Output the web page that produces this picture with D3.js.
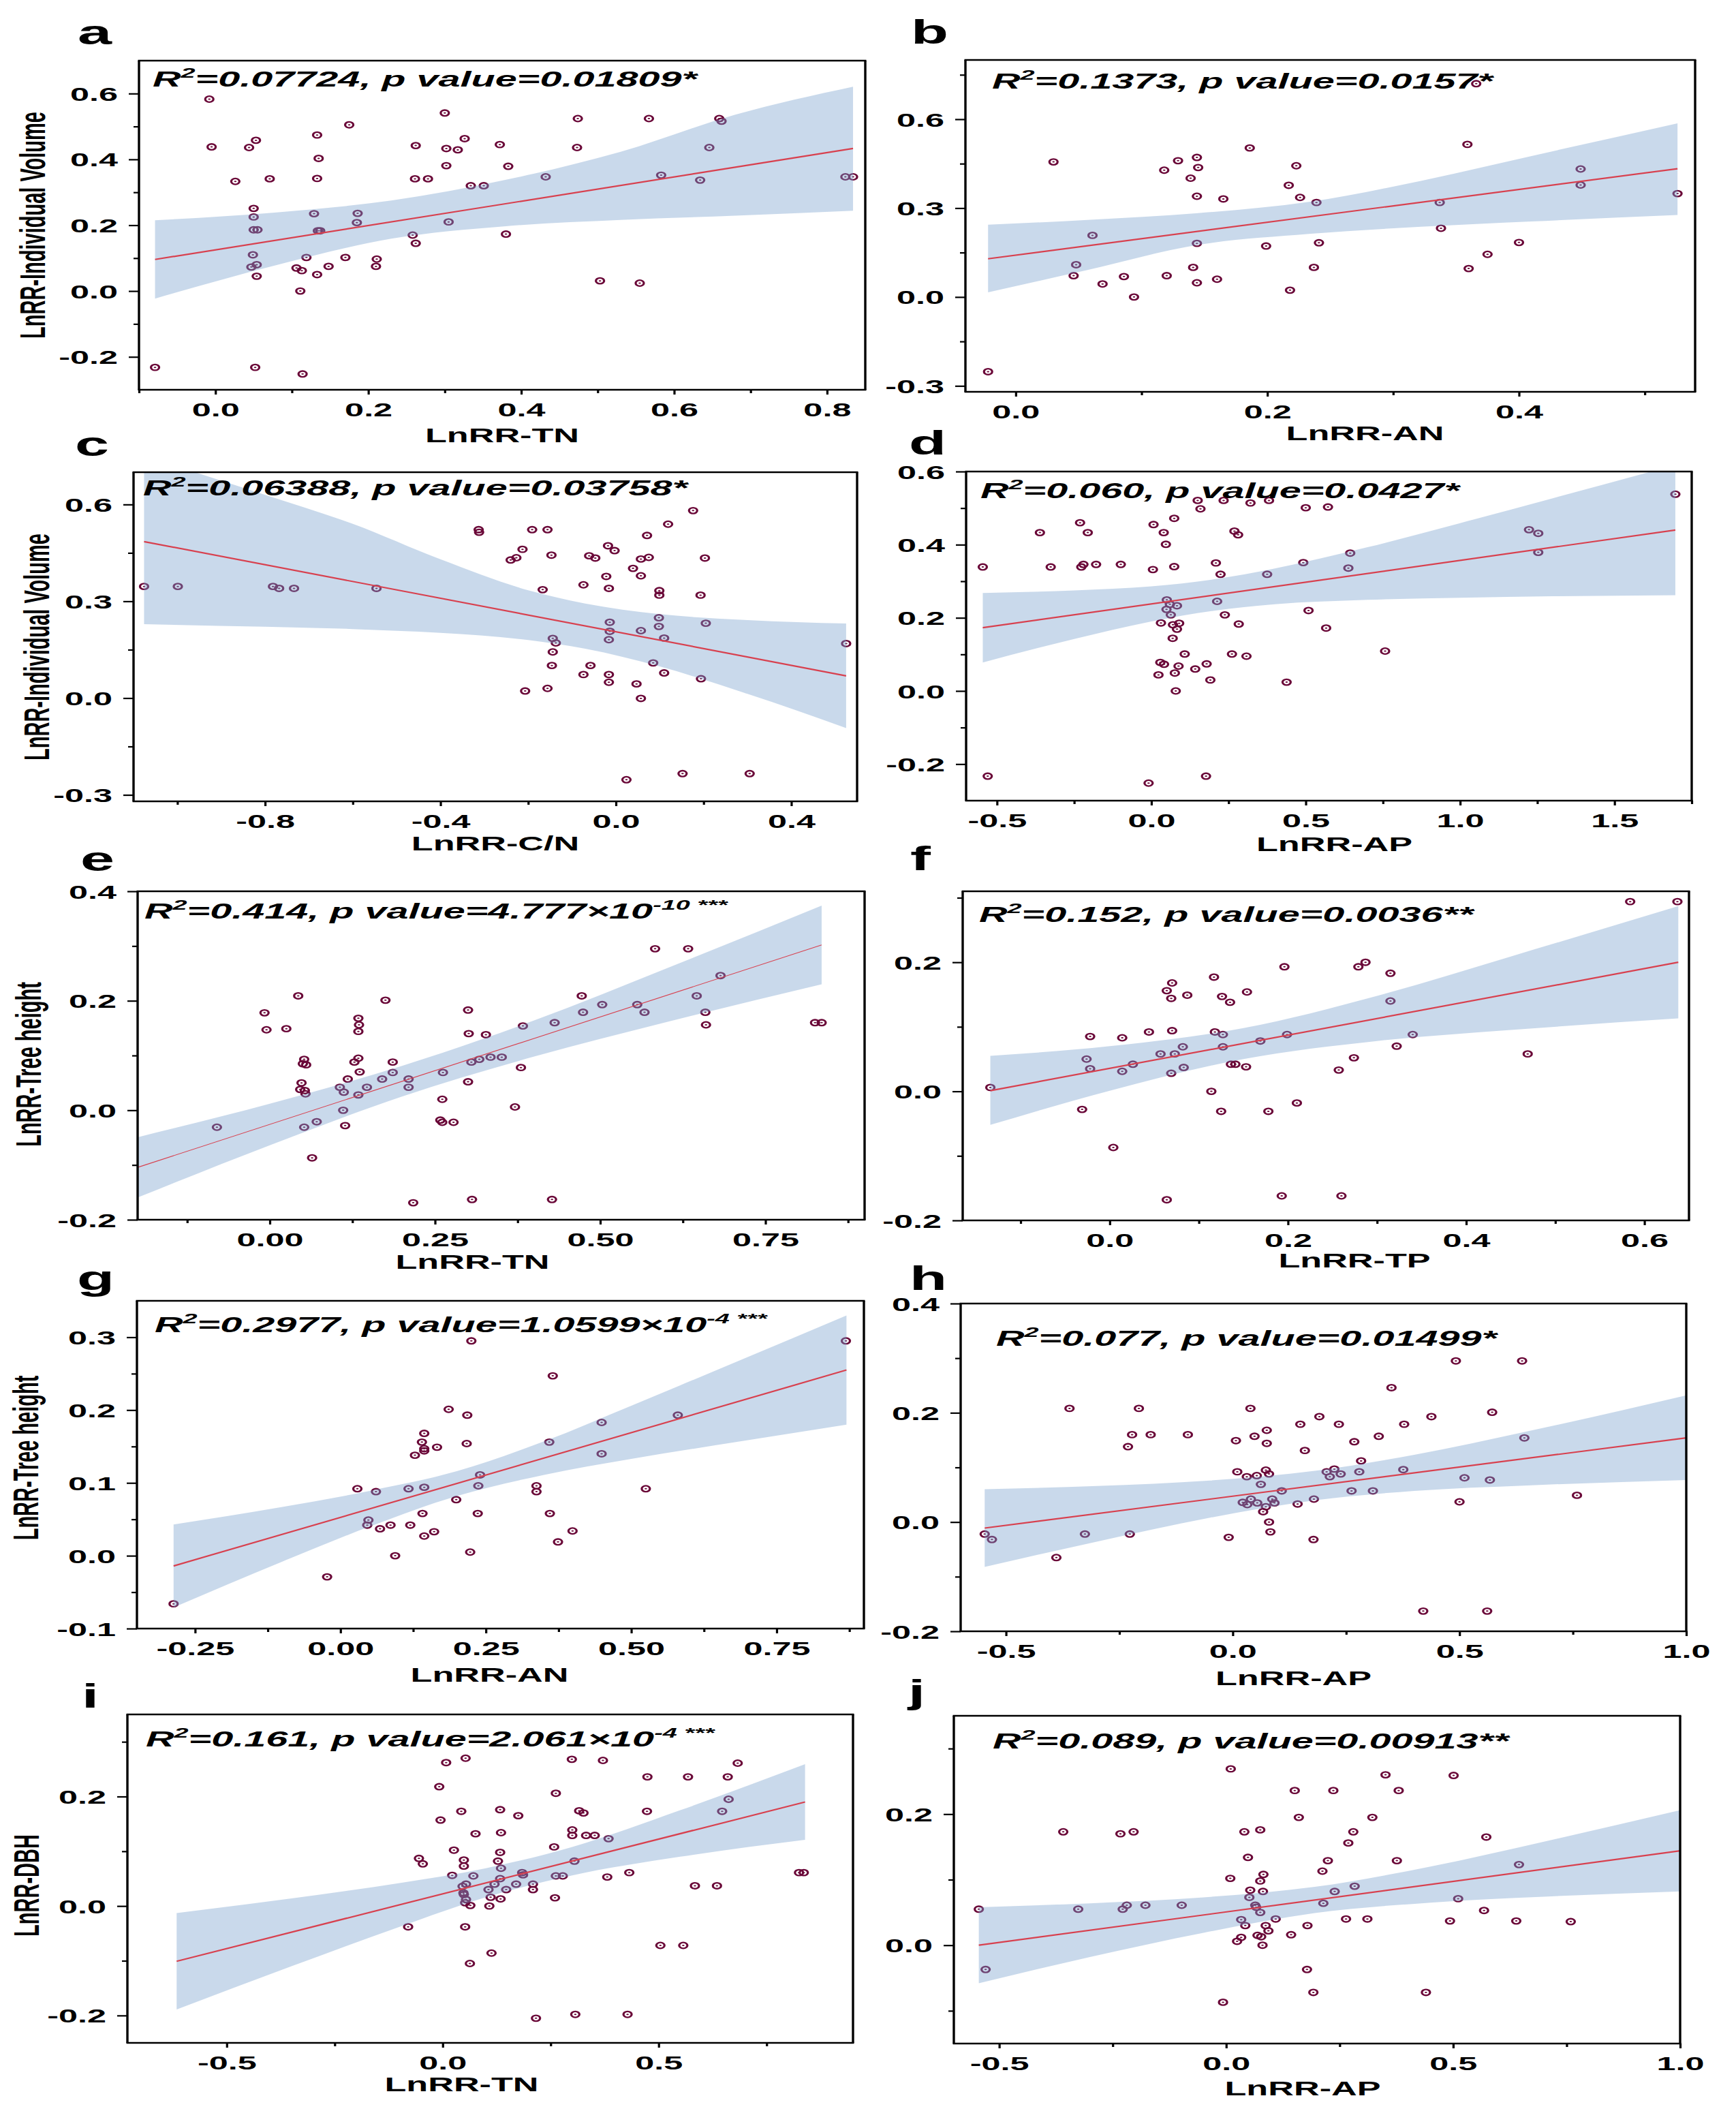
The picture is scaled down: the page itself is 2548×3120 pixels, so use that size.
<!DOCTYPE html>
<html>
<head>
<meta charset="utf-8">
<script src="https://cdn.jsdelivr.net/npm/d3@7"></script>
<style>
  body { margin: 0; background: #fff; }
  svg { display: block; background: #fff; }
  text { font-family: "Liberation Sans", Arial, sans-serif; font-weight: bold; fill: #000; }
</style>
</head>
<body>
<svg id="chart" width="2548" height="3120"></svg>
<script>
// ---------------------------------------------------------------------------
// Data
// ---------------------------------------------------------------------------

// a: LnRR-TN vs LnRR-Individual Volume
const aX = [-0.008,-0.005,0.044,0.053,0.026,0.071,0.133,0.135,0.133,0.175,0.300,0.262,0.302,0.317,0.326,0.372,0.302,0.383,0.261,0.278,0.334,0.351,0.432,0.474,0.473,0.567,0.659,0.662,0.646,0.583,0.634,0.824,0.834,0.050,0.050,0.050,0.055,0.129,0.186,0.185,0.134,0.137,0.305,0.258,0.262,0.380,0.049,0.054,0.047,0.054,0.119,0.106,0.113,0.133,0.148,0.170,0.211,0.210,0.111,0.503,0.555,-0.079,0.052,0.114];
const aY = [0.583,0.438,0.436,0.458,0.333,0.341,0.474,0.403,0.342,0.505,0.541,0.442,0.433,0.429,0.463,0.445,0.381,0.379,0.341,0.341,0.320,0.320,0.347,0.524,0.436,0.524,0.524,0.516,0.436,0.352,0.337,0.347,0.347,0.251,0.225,0.186,0.186,0.235,0.236,0.208,0.183,0.183,0.210,0.170,0.145,0.173,0.110,0.080,0.073,0.045,0.102,0.070,0.062,0.050,0.075,0.102,0.097,0.075,0.000,0.031,0.024,-0.232,-0.232,-0.252];
const aFitX = [-0.079, 0.834], aFitY = [0.096, 0.433];
const aBandX = [-0.079,0.08,0.23,0.38,0.53,0.68,0.834];
const aBandHi = [0.215,0.239,0.275,0.338,0.423,0.536,0.621];
const aBandLo = [-0.023,0.079,0.159,0.197,0.216,0.229,0.244];
const aXTicks = [0, 0.2, 0.4, 0.6, 0.8], aYTicks = [-0.2, 0, 0.2, 0.4, 0.6];

// b: LnRR-AN vs LnRR-Individual Volume
const bX = [-0.022,0.030,0.061,0.048,0.046,0.069,0.086,0.094,0.118,0.129,0.144,0.145,0.139,0.144,0.165,0.186,0.120,0.141,0.144,0.160,0.144,0.199,0.223,0.217,0.226,0.239,0.241,0.237,0.218,0.337,0.338,0.359,0.366,0.360,0.375,0.400,0.449,0.449,0.526];
const bY = [-0.252,0.456,0.208,0.109,0.072,0.044,0.069,0.000,0.428,0.460,0.471,0.437,0.401,0.340,0.331,0.503,0.072,0.100,0.048,0.060,0.181,0.172,0.443,0.377,0.336,0.319,0.183,0.100,0.023,0.319,0.232,0.515,0.720,0.096,0.144,0.184,0.432,0.378,0.349];
const bFitX = [-0.022, 0.526], bFitY = [0.129, 0.433];
const bBandX = [-0.022,0.057,0.145,0.233,0.322,0.410,0.526];
const bBandHi = [0.244,0.260,0.283,0.321,0.392,0.476,0.586];
const bBandLo = [0.016,0.091,0.176,0.213,0.237,0.255,0.277];
const bXTicks = [0, 0.2, 0.4], bYTicks = [-0.3, 0, 0.3, 0.6];

// c: LnRR-C/N vs LnRR-Individual Volume
const cX = [-1.076,-0.999,-0.782,-0.768,-0.734,-0.546,-0.313,-0.312,-0.191,-0.156,-0.213,-0.240,-0.227,-0.147,-0.167,-0.061,-0.047,-0.018,-0.003,-0.022,-0.074,-0.016,0.039,0.057,0.057,0.071,0.075,0.119,0.176,0.203,0.099,0.099,0.193,-0.014,-0.014,-0.016,0.057,0.098,0.098,0.110,0.205,0.525,-0.144,-0.137,-0.144,-0.146,-0.058,-0.074,-0.016,-0.016,0.047,0.085,0.110,0.194,-0.207,-0.156,0.057,0.024,0.152,0.305];
const cY = [0.346,0.346,0.346,0.340,0.340,0.340,0.522,0.514,0.522,0.522,0.461,0.428,0.435,0.443,0.336,0.441,0.434,0.472,0.457,0.377,0.351,0.340,0.402,0.431,0.379,0.504,0.436,0.539,0.581,0.434,0.333,0.319,0.319,0.235,0.207,0.181,0.209,0.249,0.222,0.186,0.232,0.169,0.185,0.171,0.143,0.101,0.101,0.073,0.073,0.049,0.044,0.109,0.078,0.060,0.022,0.030,-0.001,-0.253,-0.234,-0.234];
const cFitX = [-1.076, 0.525], cFitY = [0.485, 0.069];
const cBandX = [-1.076,-0.8,-0.6,-0.4,-0.2,-0.07,0.1,0.3,0.525];
const cBandHi = [0.75,0.63,0.54,0.43,0.334,0.293,0.260,0.242,0.231];
const cBandLo = [0.229,0.221,0.214,0.202,0.180,0.153,0.098,0.013,-0.093];
const cXTicks = [-0.8, -0.4, 0, 0.4], cYTicks = [-0.3, 0, 0.3, 0.6];

// d: LnRR-AP vs LnRR-Individual Volume
const dX = [-0.546,-0.361,-0.326,-0.231,-0.206,-0.227,-0.220,-0.179,-0.099,0.007,0.040,0.047,0.074,0.005,0.074,0.150,0.159,0.234,0.321,0.381,0.500,0.572,0.269,0.281,0.209,0.224,0.375,0.492,0.644,0.638,1.223,1.253,1.253,1.697,0.050,0.060,0.083,0.049,0.063,0.213,0.238,0.031,0.070,0.090,0.083,0.069,0.283,0.509,0.566,0.757,0.108,0.261,0.308,0.029,0.041,0.088,0.179,0.142,0.023,0.076,0.191,0.438,0.079,-0.530,-0.009,0.177];
const dY = [0.339,0.433,0.339,0.460,0.433,0.339,0.346,0.346,0.346,0.455,0.433,0.401,0.472,0.332,0.340,0.521,0.498,0.521,0.514,0.521,0.501,0.503,0.437,0.427,0.350,0.319,0.319,0.351,0.377,0.336,0.441,0.431,0.379,0.538,0.249,0.237,0.233,0.223,0.208,0.245,0.208,0.186,0.181,0.185,0.169,0.144,0.183,0.220,0.172,0.109,0.101,0.101,0.095,0.078,0.073,0.068,0.074,0.060,0.044,0.049,0.030,0.024,0.000,-0.233,-0.252,-0.233];
const dFitX = [-0.546, 1.697], dFitY = [0.173, 0.440];
const dBandX = [-0.546,-0.25,0,0.2,0.4,0.7,1.0,1.3,1.697];
const dBandHi = [0.268,0.275,0.286,0.305,0.335,0.393,0.459,0.527,0.618];
const dBandLo = [0.078,0.142,0.190,0.219,0.237,0.249,0.255,0.259,0.262];
const dXTicks = [-0.5, 0, 0.5, 1.0, 1.5], dYTicks = [-0.2, 0, 0.2, 0.4, 0.6];

// e: LnRR-TN vs LnRR-Tree height
const eX = [-0.080,-0.008,-0.005,0.025,0.043,0.052,0.050,0.055,0.048,0.046,0.053,0.054,0.052,0.071,0.064,0.118,0.106,0.112,0.111,0.114,0.128,0.134,0.134,0.135,0.134,0.136,0.134,0.147,0.170,0.175,0.186,0.186,0.210,0.210,0.217,0.262,0.261,0.258,0.261,0.278,0.300,0.301,0.327,0.300,0.305,0.317,0.334,0.351,0.306,0.380,0.371,0.383,0.431,0.427,0.472,0.474,0.503,0.556,0.567,0.583,0.633,0.646,0.659,0.660,0.682,0.825,0.835];
const eY = [-0.031,0.178,0.147,0.149,0.209,0.093,0.085,0.083,0.050,0.038,0.036,0.030,-0.031,-0.021,-0.087,0.057,0.042,0.033,0.000,-0.028,0.088,0.095,0.168,0.156,0.144,0.070,0.028,0.042,0.057,0.201,0.088,0.069,0.057,0.042,-0.169,0.069,0.020,-0.018,-0.022,-0.022,0.183,0.140,0.138,0.052,0.088,0.093,0.097,0.097,-0.163,0.078,0.006,0.154,0.160,-0.163,0.209,0.179,0.193,0.193,0.179,0.295,0.295,0.209,0.179,0.156,0.246,0.160,0.160];
const eFitX = [-0.199, 0.835], eFitY = [-0.104, 0.302];
const eBandX = [-0.199,0,0.2,0.4,0.6,0.835];
const eBandHi = [-0.049,0.012,0.081,0.164,0.259,0.374];
const eBandLo = [-0.159,-0.064,0.025,0.098,0.161,0.230];
const eXTicks = [0, 0.25, 0.5, 0.75], eYTicks = [-0.2, 0, 0.2, 0.4];

// f: LnRR-TP vs LnRR-Tree height
const fX = [-0.134,-0.031,-0.022,-0.026,-0.022,0.004,0.014,0.014,0.026,0.044,0.057,0.064,0.070,0.069,0.087,0.070,0.073,0.082,0.069,0.083,0.064,0.117,0.126,0.135,0.154,0.118,0.127,0.127,0.136,0.141,0.153,0.169,0.114,0.125,0.178,0.210,0.196,0.199,0.193,0.260,0.257,0.274,0.279,0.287,0.315,0.315,0.322,0.340,0.469,0.584,0.637];
const fY = [0.006,-0.028,0.085,0.050,0.035,-0.087,0.083,0.031,0.042,0.092,0.058,0.156,0.168,0.144,0.149,0.094,0.058,0.069,0.028,0.037,-0.168,0.177,0.147,0.138,0.154,0.092,0.088,0.069,0.042,0.042,0.038,0.078,0.000,-0.031,-0.031,-0.018,0.193,0.088,-0.162,-0.162,0.033,0.052,0.193,0.200,0.183,0.140,0.070,0.088,0.058,0.294,0.294];
const fFitX = [-0.134, 0.638], fFitY = [0.001, 0.200];
const fBandX = [-0.134,0,0.15,0.3,0.45,0.638];
const fBandHi = [0.055,0.070,0.098,0.148,0.209,0.287];
const fBandLo = [-0.052,0.001,0.050,0.078,0.095,0.113];
const fXTicks = [0, 0.2, 0.4, 0.6], fYTicks = [-0.2, 0, 0.2];

// g: LnRR-AN vs LnRR-Tree height
const gX = [-0.287,-0.023,0.029,0.061,0.048,0.046,0.068,0.086,0.094,0.117,0.120,0.128,0.144,0.140,0.144,0.144,0.166,0.144,0.141,0.144,0.161,0.186,0.199,0.218,0.217,0.225,0.223,0.240,0.237,0.236,0.337,0.337,0.359,0.360,0.365,0.374,0.399,0.449,0.449,0.525,0.580,0.869];
const gY = [-0.066,-0.029,0.092,0.088,0.049,0.042,0.037,0.042,0.000,0.092,0.042,0.138,0.168,0.156,0.147,0.144,0.149,0.094,0.058,0.027,0.033,0.201,0.077,0.193,0.154,0.295,0.005,0.111,0.096,0.058,0.096,0.088,0.156,0.058,0.247,0.019,0.034,0.183,0.140,0.092,0.193,0.295];
const gFitX = [-0.287, 0.870], gFitY = [-0.014, 0.255];
const gBandX = [-0.287,-0.1,0.05,0.2,0.35,0.5,0.68,0.870];
const gBandHi = [0.043,0.067,0.089,0.116,0.157,0.206,0.266,0.330];
const gBandLo = [-0.071,-0.008,0.040,0.082,0.111,0.133,0.156,0.180];
const gXTicks = [-0.25, 0, 0.25, 0.5, 0.75], gYTicks = [-0.1, 0, 0.1, 0.2, 0.3];

// h: LnRR-AP vs LnRR-Tree height
const hX = [-0.547,-0.531,-0.389,-0.360,-0.326,-0.231,-0.222,-0.207,-0.227,-0.181,-0.099,-0.009,0.007,0.010,0.039,0.048,0.075,0.075,0.073,0.031,0.053,0.080,0.062,0.108,0.040,0.022,0.032,0.054,0.087,0.092,0.073,0.067,0.080,0.083,0.143,0.179,0.178,0.149,0.159,0.191,0.234,0.207,0.214,0.224,0.238,0.262,0.268,0.279,0.283,0.309,0.322,0.350,0.376,0.378,0.438,0.492,0.500,0.511,0.572,0.567,0.638,0.643,0.759,0.420,0.561];
const hY = [-0.022,-0.032,-0.065,0.208,-0.022,0.138,0.160,0.208,-0.022,0.160,0.160,-0.028,0.149,0.092,0.208,0.157,0.168,0.144,0.095,0.083,0.085,0.088,0.069,0.057,0.042,0.036,0.032,0.035,0.042,0.035,0.028,0.019,0.000,-0.018,0.033,0.042,-0.032,0.179,0.131,0.193,0.179,0.092,0.083,0.097,0.088,0.057,0.147,0.092,0.112,0.057,0.157,0.246,0.096,0.179,0.193,0.295,0.037,0.081,0.201,0.077,0.295,0.154,0.049,-0.163,-0.163];
const hFitX = [-0.547, 1.0], hFitY = [-0.011, 0.154];
const hBandX = [-0.547,-0.3,-0.05,0.184,0.4,0.65,1.0];
const hBandHi = [0.060,0.066,0.076,0.094,0.123,0.166,0.232];
const hBandLo = [-0.082,-0.036,0.008,0.040,0.057,0.067,0.077];
const hXTicks = [-0.5, 0, 0.5, 1.0], hYTicks = [-0.2, 0, 0.2, 0.4];

// i: LnRR-TN vs LnRR-DBH
const iX = [-0.080,-0.055,-0.046,-0.008,-0.005,0.008,0.053,0.026,0.043,0.049,0.049,0.022,0.071,0.054,0.046,0.048,0.049,0.054,0.052,0.064,0.052,0.063,0.076,0.133,0.135,0.133,0.128,0.135,0.133,0.120,0.106,0.111,0.134,0.108,0.113,0.175,0.147,0.170,0.184,0.186,0.209,0.209,0.216,0.258,0.262,0.260,0.262,0.278,0.299,0.300,0.300,0.316,0.326,0.332,0.352,0.305,0.307,0.371,0.384,0.381,0.432,0.428,0.474,0.473,0.504,0.557,0.568,0.584,0.635,0.660,0.662,0.647,0.683,0.825,0.836];
const iY = [-0.038,0.087,0.077,0.218,0.157,0.262,0.270,0.102,0.173,0.084,0.073,0.056,0.055,0.040,0.036,0.024,0.021,0.012,0.006,0.001,-0.038,-0.105,0.132,0.176,0.134,0.098,0.082,0.069,0.050,0.040,0.030,0.016,0.013,0.000,-0.086,0.165,0.030,0.040,0.061,0.057,0.040,0.030,-0.205,0.108,0.206,0.015,0.055,0.055,0.268,0.139,0.129,0.174,0.170,0.129,0.129,0.082,-0.198,0.266,0.123,0.053,0.061,-0.198,0.236,0.173,-0.072,-0.072,0.236,0.037,0.037,0.236,0.195,0.173,0.261,0.061,0.061];
const iFitX = [-0.616, 0.839], iFitY = [-0.101, 0.190];
const iBandX = [-0.616,-0.35,-0.1,0.1,0.3,0.55,0.839];
const iBandHi = [-0.013,0.014,0.042,0.069,0.108,0.175,0.259];
const iBandLo = [-0.189,-0.110,-0.038,0.016,0.056,0.090,0.121];
const iXTicks = [-0.5, 0, 0.5], iYTicks = [-0.2, 0, 0.2];

// j: LnRR-AP vs LnRR-DBH
const jX = [-0.545,-0.530,-0.359,-0.326,-0.233,-0.204,-0.228,-0.219,-0.178,-0.098,-0.007,0.010,0.009,0.040,0.075,0.048,0.082,0.075,0.053,0.081,0.051,0.064,0.066,0.075,0.033,0.042,0.109,0.087,0.093,0.033,0.024,0.069,0.077,0.080,0.143,0.151,0.160,0.179,0.178,0.192,0.212,0.224,0.236,0.214,0.239,0.269,0.280,0.283,0.264,0.311,0.322,0.351,0.376,0.380,0.440,0.493,0.501,0.511,0.568,0.573,0.639,0.645,0.759];
const jY = [0.055,-0.037,0.173,0.055,0.170,0.173,0.055,0.061,0.061,0.061,-0.087,0.269,0.102,0.173,0.176,0.134,0.108,0.098,0.084,0.082,0.073,0.061,0.058,0.050,0.039,0.030,0.040,0.030,0.022,0.012,0.006,0.015,0.013,0.000,0.016,0.236,0.195,0.030,-0.037,-0.072,0.113,0.129,0.236,0.064,0.082,0.156,0.173,0.090,0.040,0.040,0.195,0.260,0.129,0.236,-0.072,0.037,0.259,0.071,0.053,0.165,0.037,0.123,0.036];
const jFitX = [-0.545, 1.0], jFitY = [0.000, 0.144];
const jBandX = [-0.545,-0.3,-0.05,0.195,0.45,0.7,1.0];
const jBandHi = [0.058,0.064,0.073,0.089,0.120,0.158,0.206];
const jBandLo = [-0.058,-0.018,0.019,0.049,0.065,0.074,0.082];
const jXTicks = [-0.5, 0, 0.5, 1.0], jYTicks = [0, 0.2];

// ---------------------------------------------------------------------------
// Layout table (frame = [left, top, right, bottom] in page pixels)
// ---------------------------------------------------------------------------
const panels = [
  { id: "a", frame: [204, 89, 1270, 572], xDomain: [-0.1, 0.85], yDomain: [-0.3, 0.7],
    xTicks: aXTicks, yTicks: aYTicks, xMinor: [-0.1, 0.1, 0.3, 0.5, 0.7], yMinor: [-0.1, 0.1, 0.3, 0.5], xDigits: 1, yDigits: 1,
    letter: [114, 65], yTitle: "LnRR-Individual Volume", yTitleX: 47, yTitleDy: 0, xTitle: "LnRR-TN", xTitleDx: 0, xTitleDy: 77,
    statPos: [20, 38], stat: [["R"], ["2", "sup"], ["=0.07724, p value=0.01809*"]],
    data: { x: aX, y: aY, fitX: aFitX, fitY: aFitY, bandX: aBandX, bandHi: aBandHi, bandLo: aBandLo } },
  { id: "b", frame: [1417, 88, 2488, 575], xDomain: [-0.04, 0.54], yDomain: [-0.32, 0.8],
    xTicks: bXTicks, yTicks: bYTicks, xMinor: [0.1, 0.3, 0.5], yMinor: [-0.15, 0.15, 0.45, 0.75], xDigits: 1, yDigits: 1,
    letter: [1337, 64], xTitle: "LnRR-AN", xTitleDx: 51, xTitleDy: 71,
    statPos: [39, 42], stat: [["R"], ["2", "sup"], ["=0.1373, p value=0.0157*"]],
    data: { x: bX, y: bY, fitX: bFitX, fitY: bFitY, bandX: bBandX, bandHi: bBandHi, bandLo: bBandLo } },
  { id: "c", frame: [196, 693, 1258, 1176], xDomain: [-1.1, 0.55], yDomain: [-0.32, 0.7],
    xTicks: cXTicks, yTicks: cYTicks, xMinor: [-1.0, -0.6, -0.2, 0.2], yMinor: [-0.15, 0.15, 0.45], xDigits: 1, yDigits: 1,
    letter: [110, 669], yTitle: "LnRR-Individual Volume", yTitleX: 53, yTitleDy: 15, xTitle: "LnRR-C/N", xTitleDx: 0, xTitleDy: 72,
    statPos: [14, 34], stat: [["R"], ["2", "sup"], ["=0.06388, p value=0.03758*"]],
    data: { x: cX, y: cY, fitX: cFitX, fitY: cFitY, bandX: cBandX, bandHi: cBandHi, bandLo: cBandLo } },
  { id: "d", frame: [1418, 692, 2483, 1175], xDomain: [-0.6, 1.75], yDomain: [-0.3, 0.6],
    xTicks: dXTicks, yTicks: dYTicks, xMinor: [-0.25, 0.25, 0.75, 1.25, 1.75], yMinor: [-0.1, 0.1, 0.3, 0.5], xDigits: 1, yDigits: 1,
    letter: [1334, 667], xTitle: "LnRR-AP", xTitleDx: 8, xTitleDy: 74,
    statPos: [21, 39], stat: [["R"], ["2", "sup"], ["=0.060, p value=0.0427*"]],
    data: { x: dX, y: dY, fitX: dFitX, fitY: dFitY, bandX: dBandX, bandHi: dBandHi, bandLo: dBandLo } },
  { id: "e", frame: [202, 1308, 1269, 1790], xDomain: [-0.2, 0.9], yDomain: [-0.2, 0.4],
    xTicks: eXTicks, yTicks: eYTicks, xMinor: [-0.125, 0.125, 0.375, 0.625, 0.875], yMinor: [-0.1, 0.1, 0.3], xDigits: 2, yDigits: 1,
    letter: [118, 1278], yTitle: "LnRR-Tree height", yTitleX: 41, yTitleDy: 13, xTitle: "LnRR-TN", xTitleDx: -42, xTitleDy: 72,
    statPos: [10, 40], stat: [["R"], ["2", "sup"], ["=0.414, p value=4.777×10"], ["-10", "sup"], [" ***", "sup"]],
    thinFit: true,
    data: { x: eX, y: eY, fitX: eFitX, fitY: eFitY, bandX: eBandX, bandHi: eBandHi, bandLo: eBandLo } },
  { id: "f", frame: [1413, 1308, 2479, 1791], xDomain: [-0.165, 0.65], yDomain: [-0.2, 0.31],
    xTicks: fXTicks, yTicks: fYTicks, xMinor: [-0.1, 0.1, 0.3, 0.5], yMinor: [-0.1, 0.1, 0.3], xDigits: 1, yDigits: 1,
    letter: [1336, 1277], xTitle: "LnRR-TP", xTitleDx: 42, xTitleDy: 69,
    statPos: [24, 45], stat: [["R"], ["2", "sup"], ["=0.152, p value=0.0036**"]],
    data: { x: fX, y: fY, fitX: fFitX, fitY: fFitY, bandX: fBandX, bandHi: fBandHi, bandLo: fBandLo } },
  { id: "g", frame: [201, 1909, 1268, 2390], xDomain: [-0.35, 0.9], yDomain: [-0.1, 0.35],
    xTicks: gXTicks, yTicks: gYTicks, xMinor: [-0.125, 0.125, 0.375, 0.625, 0.875], yMinor: [-0.05, 0.05, 0.15, 0.25], xDigits: 2, yDigits: 1,
    letter: [113, 1893], yTitle: "LnRR-Tree height", yTitleX: 37, yTitleDy: -10, xTitle: "LnRR-AN", xTitleDx: -16, xTitleDy: 78,
    statPos: [26, 46], stat: [["R"], ["2", "sup"], ["=0.2977, p value=1.0599×10"], ["-4", "sup"], [" ***", "sup"]],
    data: { x: gX, y: gY, fitX: gFitX, fitY: gFitY, bandX: gBandX, bandHi: gBandHi, bandLo: gBandLo } },
  { id: "h", frame: [1410, 1913, 2475, 2394], xDomain: [-0.6, 1.0], yDomain: [-0.2, 0.4],
    xTicks: hXTicks, yTicks: hYTicks, xMinor: [-0.25, 0.25, 0.75], yMinor: [-0.1, 0.1, 0.3], xDigits: 1, yDigits: 1,
    letter: [1335, 1893], xTitle: "LnRR-AP", xTitleDx: -44, xTitleDy: 79,
    statPos: [52, 62], stat: [["R"], ["2", "sup"], ["=0.077, p value=0.01499*"]],
    data: { x: hX, y: hY, fitX: hFitX, fitY: hFitY, bandX: hBandX, bandHi: hBandHi, bandLo: hBandLo } },
  { id: "i", frame: [187, 2516, 1252, 2998], xDomain: [-0.73, 0.95], yDomain: [-0.25, 0.35],
    xTicks: iXTicks, yTicks: iYTicks, xMinor: [-0.25, 0.25, 0.75], yMinor: [-0.1, 0.1, 0.3], xDigits: 1, yDigits: 1,
    letter: [120, 2506], yTitle: "LnRR-DBH", yTitleX: 38, yTitleDy: 10, xTitle: "LnRR-TN", xTitleDx: -42, xTitleDy: 71,
    statPos: [27, 47], stat: [["R"], ["2", "sup"], ["=0.161, p value=2.061×10"], ["-4", "sup"], [" ***", "sup"]],
    data: { x: iX, y: iY, fitX: iFitX, fitY: iFitY, bandX: iBandX, bandHi: iBandHi, bandLo: iBandLo } },
  { id: "j", frame: [1400, 2518, 2466, 2999], xDomain: [-0.6, 1.0], yDomain: [-0.15, 0.35],
    xTicks: jXTicks, yTicks: jYTicks, xMinor: [-0.25, 0.25, 0.75], yMinor: [-0.1, 0.1, 0.3], xDigits: 1, yDigits: 1,
    letter: [1333, 2500], xTitle: "LnRR-AP", xTitleDx: -21, xTitleDy: 76,
    statPos: [57, 48], stat: [["R"], ["2", "sup"], ["=0.089, p value=0.00913**"]],
    data: { x: jX, y: jY, fitX: jFitX, fitY: jFitY, bandX: jBandX, bandHi: jBandHi, bandLo: jBandLo } },
];

// the figure was squeezed vertically, so lettering and markers are wide
const STRETCH = 1.8;
const MARKER_STRETCH = 1.4;
const MARKER = "#6a0838";
const BAND = "rgb(120,160,205)";
const FIT = "#d8404e";

// text inside a horizontally stretched group
function wideText(parent, x, y, size, anchor) {
  return parent.append("g")
    .attr("transform", `translate(${x},${y}) scale(${STRETCH},1)`)
    .append("text")
    .attr("text-anchor", anchor)
    .style("font-size", `${size}px`);
}

class RegressionPanel {
  constructor(_config, _data) {
    this.config = {
      parentElement: _config.parentElement,
      ..._config.layout,
    };
    this.data = _data;
    this.initVis();
  }

  initVis() {
    let vis = this;
    const [l, t, r, b] = vis.config.frame;

    vis.xScale = d3.scaleLinear().domain(vis.config.xDomain).range([l, r]);
    vis.yScale = d3.scaleLinear().domain(vis.config.yDomain).range([b, t]);

    vis.chart = d3.select(vis.config.parentElement)
      .append("g")
      .attr("class", `panel panel-${vis.config.id}`);

    vis.chart.append("clipPath")
      .attr("id", `clip-${vis.config.id}`)
      .append("rect")
      .attr("x", l).attr("y", t)
      .attr("width", r - l).attr("height", b - t);

    vis.renderVis();
  }

  renderVis() {
    let vis = this;
    const [l, t, r, b] = vis.config.frame;
    const d = vis.data;

    //-------------------------------------------------------------------------
    // Points (drawn first, the confidence band sits over them)
    const pts = vis.chart.append("g")
      .attr("clip-path", `url(#clip-${vis.config.id})`)
      .selectAll(".pt")
      .data(d3.zip(d.x, d.y))
      .join("g")
      .attr("class", "pt")
      .attr("transform", (p) => `translate(${vis.xScale(p[0])},${vis.yScale(p[1])}) scale(${MARKER_STRETCH},1)`);

    pts.append("circle")
      .attr("r", 4.3)
      .attr("fill", "none")
      .attr("stroke", MARKER)
      .attr("stroke-width", 2.3);

    pts.append("ellipse")
      .attr("rx", 1.3).attr("ry", 1.0)
      .attr("fill", MARKER);

    //-------------------------------------------------------------------------
    // Confidence band
    const area = d3.area()
      .x((p) => vis.xScale(p[0]))
      .y0((p) => vis.yScale(p[1]))
      .y1((p) => vis.yScale(p[2]))
      .curve(d3.curveMonotoneX);

    vis.chart.append("path")
      .attr("clip-path", `url(#clip-${vis.config.id})`)
      .datum(d3.zip(d.bandX, d.bandLo, d.bandHi))
      .attr("d", area)
      .attr("fill", BAND)
      .attr("fill-opacity", 0.4);

    //-------------------------------------------------------------------------
    // Fitted line
    const line = d3.line()
      .x((p) => vis.xScale(p[0]))
      .y((p) => vis.yScale(p[1]));

    vis.chart.append("path")
      .datum(d3.zip(d.fitX, d.fitY))
      .attr("d", line)
      .attr("fill", "none")
      .attr("stroke", FIT)
      .attr("stroke-width", vis.config.thinFit ? 1.1 : 2.2);

    //-------------------------------------------------------------------------
    // Axes
    const yMajor = d3.axisLeft(vis.yScale)
      .tickValues(vis.config.yTicks)
      .tickSize(15)
      .tickFormat((v) => v.toFixed(vis.config.yDigits));
    const yMinor = d3.axisLeft(vis.yScale)
      .tickValues(vis.config.yMinor)
      .tickSize(8)
      .tickFormat("");
    const xMajor = d3.axisBottom(vis.xScale)
      .tickValues(vis.config.xTicks)
      .tickSize(7)
      .tickFormat((v) => v.toFixed(vis.config.xDigits));
    const xMinor = d3.axisBottom(vis.xScale)
      .tickValues(vis.config.xMinor)
      .tickSize(5)
      .tickFormat("");

    [yMajor, yMinor].forEach((ax) => {
      const g = vis.chart.append("g").attr("transform", `translate(${l},0)`).call(ax);
      g.select(".domain").remove();
      g.selectAll("line").attr("stroke-width", 2.2);
      g.selectAll("text")
        .attr("x", -31 / STRETCH)
        .attr("dy", "0.36em")
        .attr("transform", `scale(${STRETCH},1)`)
        .style("font-size", "28px");
    });

    [xMajor, xMinor].forEach((ax) => {
      const g = vis.chart.append("g").attr("transform", `translate(0,${b})`).call(ax);
      g.select(".domain").remove();
      g.selectAll("line").attr("stroke-width", 3.2);
      g.selectAll("text")
        .attr("y", 19)
        .attr("transform", `scale(${STRETCH},1)`)
        .style("font-size", "28px");
    });

    //-------------------------------------------------------------------------
    // Frame
    const frame = vis.chart.append("g").attr("stroke", "#000").attr("fill", "none");
    frame.append("line").attr("x1", l - 1.5).attr("x2", r + 1.5).attr("y1", t).attr("y2", t).attr("stroke-width", 2.4);
    frame.append("line").attr("x1", l - 1.5).attr("x2", r + 1.5).attr("y1", b).attr("y2", b).attr("stroke-width", 2.4);
    frame.append("line").attr("x1", l).attr("x2", l).attr("y1", t).attr("y2", b).attr("stroke-width", 3.4);
    frame.append("line").attr("x1", r).attr("x2", r).attr("y1", t).attr("y2", b).attr("stroke-width", 3.4);

    //-------------------------------------------------------------------------
    // Labels
    wideText(vis.chart, vis.config.letter[0], vis.config.letter[1], 50, "start")
      .text(vis.config.id);

    wideText(vis.chart, (l + r) / 2 + vis.config.xTitleDx, b + vis.config.xTitleDy, 29, "middle")
      .text(vis.config.xTitle);

    if (vis.config.yTitle) {
      vis.chart.append("g")
        .attr("transform", `translate(${vis.config.yTitleX},${(t + b) / 2 + vis.config.yTitleDy}) rotate(-90) scale(1,${STRETCH})`)
        .append("text")
        .attr("text-anchor", "middle")
        .attr("dy", "0.36em")
        .style("font-size", "29px")
        .text(vis.config.yTitle);
    }

    const stat = wideText(vis.chart, l + vis.config.statPos[0], t + vis.config.statPos[1], 32, "start")
      .style("font-style", "italic");
    let raised = false;
    vis.config.stat.forEach(([txt, kind]) => {
      const sup = kind === "sup";
      const span = stat.append("tspan").text(txt);
      if (sup && !raised) span.attr("dy", -13);
      if (!sup && raised) span.attr("dy", 13);
      span.style("font-size", sup ? "21px" : "32px");
      raised = sup;
    });
  }
}

panels.forEach((p) => {
  new RegressionPanel({ parentElement: "#chart", layout: p }, p.data);
});
</script>
</body>
</html>
